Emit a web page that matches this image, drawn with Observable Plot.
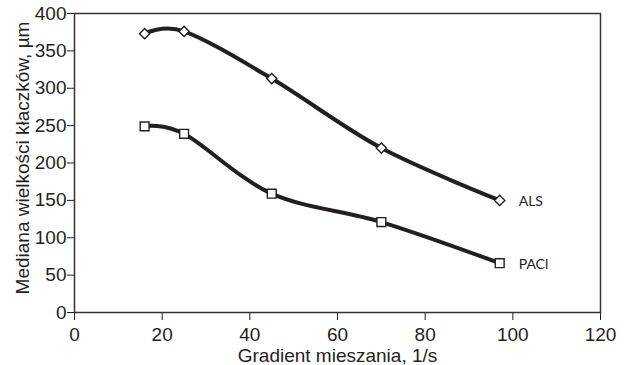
<!DOCTYPE html>
<html>
<head>
<meta charset="utf-8">
<script src="https://cdn.jsdelivr.net/npm/d3@7"></script>
<script src="https://cdn.jsdelivr.net/npm/@observablehq/plot@0.6"></script>
<style>
  html, body { margin: 0; padding: 0; background: #fff; }
  #chart svg { display: block; }
</style>
</head>
<body>
<div id="chart"></div>
<script>
const gradient = [16, 25, 45, 70, 97];
const alsValues = [373, 376, 313, 220, 150];
const paclValues = [249, 239, 159, 121, 66];
const seriesNames = ["ALS", "PACl"];
const xTicks = [0, 20, 40, 60, 80, 100, 120];
const yTicks = [0, 50, 100, 150, 200, 250, 300, 350, 400];
const xTitle = "Gradient mieszania, 1/s";
const yTitle = "Mediana wielkości kłaczków, µm";

const als = gradient.map((g, i) => ({x: g, y: alsValues[i], s: seriesNames[0]}));
const pacl = gradient.map((g, i) => ({x: g, y: paclValues[i], s: seriesNames[1]}));
const ends = [als[als.length - 1], pacl[pacl.length - 1]];

const ink = "#231f20";

const chart = Plot.plot({
  width: 629,
  height: 365,
  marginLeft: 74,
  marginRight: 29,
  marginTop: 13,
  marginBottom: 53,
  style: {fontFamily: "'Liberation Sans', Arial, sans-serif", fontSize: "19px", color: ink, background: "#fff"},
  x: {domain: [0, 120], ticks: xTicks, tickSize: 8, tickPadding: 7, label: null},
  y: {domain: [0, 400], ticks: yTicks, tickSize: 7, tickPadding: 1, label: null},
  marks: [
    Plot.frame({stroke: "#333", strokeWidth: 1.5}),
    Plot.line(als, {x: "x", y: "y", curve: "cardinal", stroke: ink, strokeWidth: 4}),
    Plot.line(pacl, {x: "x", y: "y", curve: "cardinal", stroke: ink, strokeWidth: 4}),
    Plot.dot(als, {x: "x", y: "y", symbol: "diamond2", r: 4.6, fill: "#fff", stroke: ink, strokeWidth: 1.4}),
    Plot.dot(pacl, {x: "x", y: "y", symbol: "square", r: 5, fill: "#fff", stroke: ink, strokeWidth: 1.4}),
    Plot.text(ends, {x: "x", y: "y", text: "s", textAnchor: "start", dx: 19, dy: 1, fontFamily: "Lato, 'Open Sans', sans-serif", fontSize: 14, fill: ink}),
    Plot.text([xTitle], {frameAnchor: "bottom", text: d => d, textAnchor: "middle", lineAnchor: "middle", dy: 43, fill: ink}),
    Plot.text([yTitle], {frameAnchor: "left", text: d => d, textAnchor: "middle", lineAnchor: "middle", rotate: -90, dx: -52, dy: -5, fill: ink})
  ]
});
document.getElementById("chart").appendChild(chart);
</script>
</body>
</html>
